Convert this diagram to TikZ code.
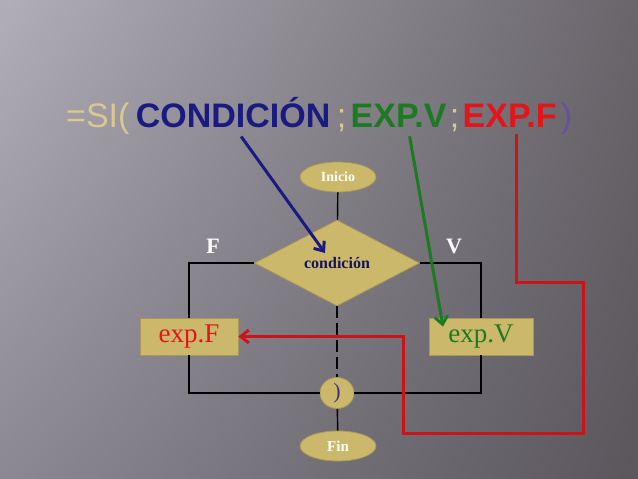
\documentclass[tikz,border=0pt]{standalone}
\usepackage{fontspec}
\setmainfont{Liberation Serif}
\newfontfamily\titlefont{Liberation Sans}
\usetikzlibrary{shapes.geometric,arrows.meta,shadings}
\definecolor{sand}{HTML}{CBB86A}
\definecolor{sandedge}{HTML}{A8995A}
\definecolor{titletan}{HTML}{D9C98F}
\definecolor{titlenavy}{HTML}{1A1A80}
\definecolor{titlegreen}{HTML}{1D7A23}
\definecolor{titlered}{HTML}{E3151A}
\definecolor{titlepurple}{HTML}{6B4E9E}
\definecolor{condnavy}{HTML}{14145A}
\definecolor{bgtl}{HTML}{B2AEB8}
\definecolor{bgtr}{HTML}{69656B}
\definecolor{bgbl}{HTML}{8C8892}
\definecolor{bgbr}{HTML}{5A565C}
\tikzset{
    title-part/.style = {inner sep=0pt, anchor=base west, font=\titlefont\fontsize{34}{34}\selectfont},
    title-word/.style = {title-part, font=\titlefont\bfseries\fontsize{34}{34}\selectfont},
    flow-oval/.style = {ellipse, draw=sandedge, fill=sand, thick, inner sep=0pt, minimum width=76pt, minimum height=30pt, text=white, font=\bfseries\fontsize{14}{14}\selectfont},
    flow-box/.style = {rectangle, draw=sandedge, fill=sand, thick, inner sep=0pt, minimum height=37pt, font=\fontsize{27}{27}\selectfont},
    flow-line/.style = {draw=black, line width=1.4pt},
    pick-arrow/.style = {line width=3pt, -{Straight Barb[length=8pt,width=13pt]}},
    branch-label/.style = {text=white, font=\bfseries\fontsize{22}{22}\selectfont},
}

\begin{document}
\begin{tikzpicture}[x=1pt, y=-1pt]
\shade[upper left=bgtl, upper right=bgtr, lower left=bgbl, lower right=bgbr] (0,0) rectangle (638,479);
\useasboundingbox (0,0) rectangle (638,479);

\node[title-part, text=titletan] (eq) at (66,127) {=SI(};
\node[title-word, text=titlenavy] (cond) at ([xshift=6pt]eq.base east) {CONDICIÓN};
\node[title-part, text=titletan] (semi1) at ([xshift=6pt]cond.base east) {;};
\node[title-word, text=titlegreen] (expv) at ([xshift=4pt]semi1.base east) {EXP.V};
\node[title-part, text=titletan] (semi2) at ([xshift=3pt]expv.base east) {;};
\node[title-word, text=titlered] (expf) at ([xshift=3pt]semi2.base east) {EXP.F};
\node[title-part, text=titlepurple] (close) at ([xshift=4pt]expf.base east) {)};

\node[flow-oval] (start) at (338,177) {Inicio};
\node[diamond, aspect=1.9, draw=sandedge, fill=sand, thick, inner sep=0pt, minimum width=165pt, minimum height=86pt, text=condnavy, font=\bfseries\fontsize{16}{16}\selectfont] (dec) at (337,263) {condición};
\node[flow-box, minimum width=98pt, text=titlered] (expF) at (189,336.5) {exp.F};
\node[flow-box, minimum width=104pt, text=titlegreen] (expV) at (481,336.5) {exp.V};
\node[ellipse, draw=sandedge, fill=sand, thick, inner sep=0pt, minimum width=34pt, minimum height=31pt, text=condnavy!50!titlepurple, font=\fontsize{22}{22}\selectfont] (join) at (337,393) {)};
\node[flow-oval, font=\bfseries\fontsize{15}{15}\selectfont] (stop) at (338,446) {Fin};

\node[branch-label] (flab) at (213,246) {F};
\node[branch-label] (vlab) at (454,246) {V};

\draw[flow-line] (start) -- (dec);
\draw[flow-line] (dec.west) -| (expF.north);
\draw[flow-line] (expF.south) |- (join.west);
\draw[flow-line] (dec.east) -| (expV.north);
\draw[flow-line] (expV.south) |- (join.east);
\draw[flow-line, dash pattern=on 12pt off 5pt] (dec.south) -- (join.north);
\draw[flow-line] (join) -- (stop);

\draw[pick-arrow, draw=titlenavy] ([xshift=8pt,yshift=-9pt]cond.south) -- ([shift={(-12pt,10pt)}]dec.center);
\draw[pick-arrow, draw=titlegreen] ([xshift=11pt,yshift=-9pt]expv.south) -- ([shift={(-38pt,-9pt)}]expV.north);
\draw[pick-arrow, draw=titlered!90!black] ([xshift=7pt,yshift=-7pt]expf.south) |- (583,282) -- (583,433) -- (403,433) |- (expF.east);
\end{tikzpicture}
\end{document}
